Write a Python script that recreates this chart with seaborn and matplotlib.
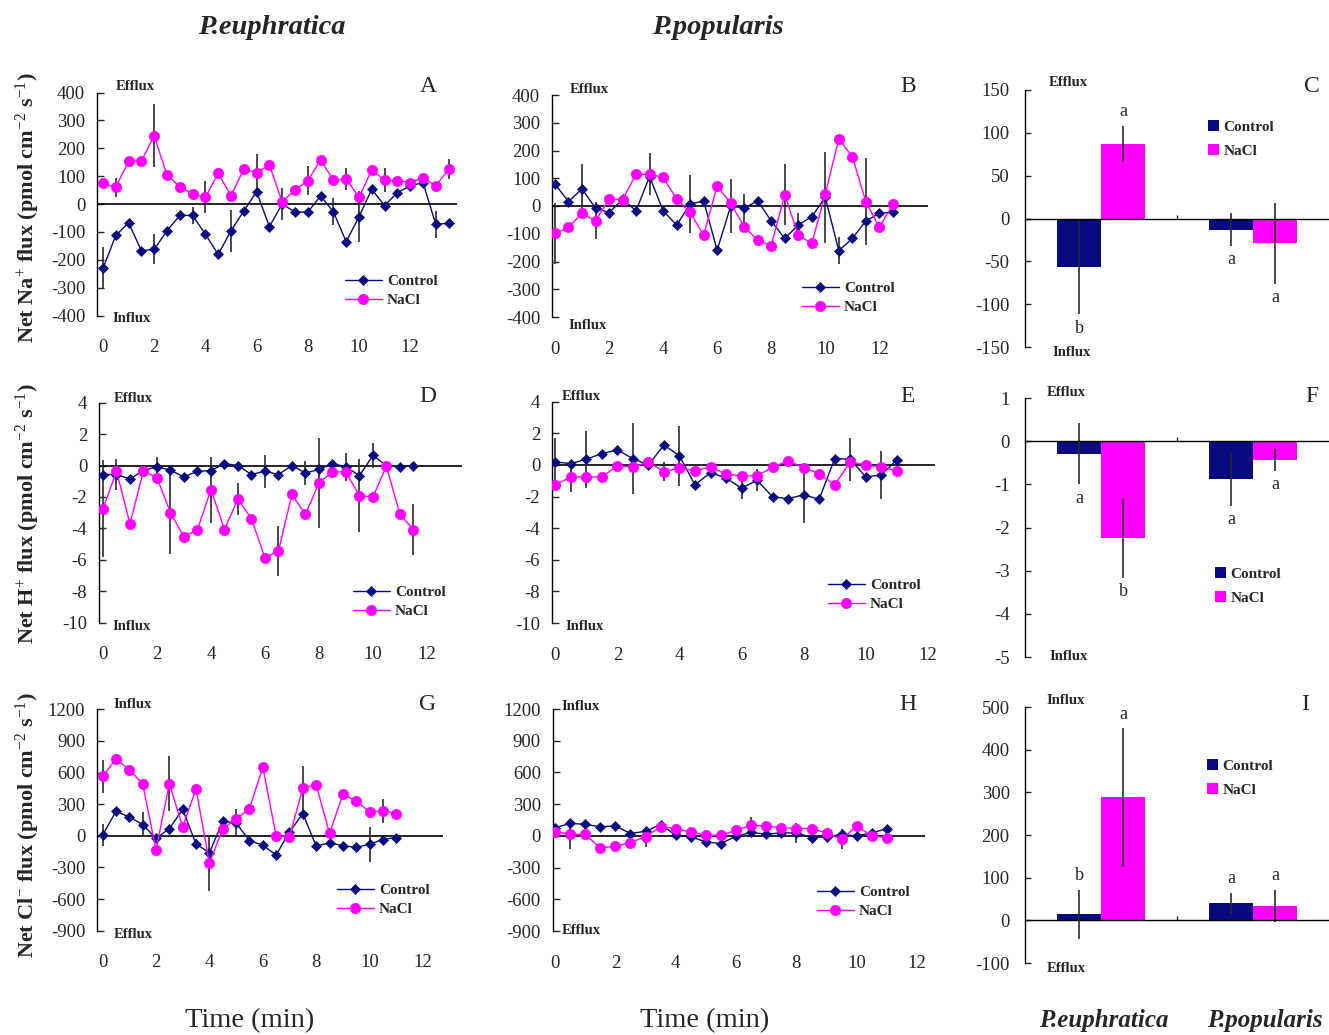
import numpy as np
import pandas as pd
import matplotlib
matplotlib.use("Agg")
import matplotlib.pyplot as plt
import matplotlib.transforms as mtransforms
import seaborn as sns

# ---------------- data ----------------
times = [0, 0.5, 1, 1.5, 2, 2.5, 3, 3.5, 4, 4.5, 5, 5.5, 6, 6.5,
         7, 7.5, 8, 8.5, 9, 9.5, 10, 10.5, 11, 11.5, 12, 12.5, 13, 13.5]

# Panel A: Na+ flux, P. euphratica
na_pe_ctrl = [-231, -113, -67, -168, -163, -96, -41, -41, -108, -181,
              -96, -25, 44, -81, 0, -29, -29, 29, -28, -135,
              -46, 53, -6, 41, 65, 77, -73, -69]
na_pe_ctrl_err = [75, 0, 0, 0, 54, 0, 0, 29, 0, 0,
                  75, 0, 0, 0, 57, 0, 0, 0, 48, 0,
                  91, 0, 0, 0, 0, 0, 48, 0]
na_pe_nacl = [74, 60, 154, 154, 244, 104, 62, 36, 24, 110,
              30, 125, 113, 140, 8, 50, 84, 158, 86, 90,
              24, 122, 86, 83, 77, 95, 65, 125]
na_pe_nacl_err = [0, 35, 0, 0, 113, 0, 0, 0, 58, 0,
                  0, 0, 67, 0, 0, 0, 53, 0, 0, 39,
                  0, 0, 43, 0, 0, 0, 0, 36]

# Panel B: Na+ flux, P. popularis
na_pp_ctrl = [79, 16, 62, -8, -24, 24, -17, 106, -17, -69,
              7, 18, -159, 0, -8, 19, -54, -117, -69, -38,
              31, -161, -117, -54, -26, -23]
na_pp_ctrl_err = [0, 0, 90, 0, 0, 0, 0, 0, 0, 0,
                  106, 0, 0, 98, 52, 0, 0, 0, 43, 0,
                  165, 48, 0, 0, 0, 0]
na_pp_nacl = [-99, -77, -26, -53, 25, 22, 115, 114, 103, 25,
              -23, -105, 72, 10, -75, -123, -143, 40, -105, -135,
              43, 242, 178, 16, -77, 6]
na_pp_nacl_err = [111, 0, 0, 66, 0, 0, 0, 76, 0, 0,
                  0, 0, 0, 0, 0, 0, 0, 110, 0, 0,
                  0, 0, 0, 156, 0, 0]

# Panel D: H+ flux, P. euphratica
h_pe_ctrl = [-0.57, -0.57, -0.85, -0.30, -0.08, -0.30, -0.72, -0.36, -0.32, 0.13,
             0.0, -0.57, -0.36, -0.57, 0.0, -0.47, -0.25, 0.13, -0.08, -0.64,
             0.64, 0.0, -0.08, 0.0]
h_pe_ctrl_err = [0, 1.0, 0, 0, 0.6, 0, 0, 0, 0, 0,
                 0, 0, 1.06, 0, 0, 0.77, 0, 0, 0.9, 0,
                 0.77, 0, 0, 0]
h_pe_nacl = [-2.75, -0.36, -3.71, -0.32, -0.78, -3.0, -4.55, -4.07, -1.53, -4.07,
             -2.12, -3.39, -5.87, -5.44, -1.84, -3.11, -1.10, -0.40, -0.42, -1.91,
             -1.99, -0.04, -3.11, -4.07]
h_pe_nacl_err = [3.1, 0, 0, 0, 0, 2.65, 0, 0, 2.1, 0,
                 1.0, 0, 0, 1.6, 0, 0, 2.86, 0, 0, 2.3,
                 0, 0, 0, 1.6]

# Panel E: H+ flux, P. popularis
h_pp_ctrl = [0.19, 0.08, 0.36, 0.72, 0.95, 0.40, 0.0, 1.26, 0.57, -1.26,
             -0.48, -0.84, -1.47, -0.97, -2.02, -2.13, -1.89, -2.17, 0.40, 0.36,
             -0.76, -0.63, 0.32]
h_pp_ctrl_err = [1.5, 0, 1.8, 0, 0, 2.27, 0, 0, 1.9, 0,
                 0, 0, 0.7, 0.7, 0, 0, 1.8, 0, 0, 1.36,
                 0, 1.52, 0]
h_pp_nacl = [-1.26, -0.76, -0.76, -0.76, -0.06, -0.13, 0.19, -0.42, -0.21, -0.38,
             -0.11, -0.59, -0.69, -0.69, -0.13, 0.25, -0.17, -0.55, -1.26, 0.19,
             0.0, -0.13, -0.38]
h_pp_nacl_err = [0, 0.93, 0, 0, 0, 0, 0, 0.6, 0, 0,
                 0, 0, 0, 0, 0, 0, 0, 0, 0, 0,
                 0, 0, 0]

# Panel G: Cl- flux, P. euphratica
cl_pe_ctrl = [6, 232, 179, 107, -25, 69, 251, -79, -160, 138,
              123, -47, -88, -182, 38, 210, -97, -66, -94, -110,
              -79, -35, -16]
cl_pe_ctrl_err = [107, 0, 0, 119, 0, 0, 0, 47, 0, 0,
                  129, 0, 0, 0, 0, 0, 0, 0, 0, 0,
                  167, 0, 0]
cl_pe_nacl = [563, 729, 626, 494, -135, 494, 85, 446, -261, 69,
              157, 258, 651, 0, -9, 453, 484, 22, 393, 330,
              226, 236, 211]
cl_pe_nacl_err = [157, 0, 0, 0, 0, 261, 0, 0, 261, 0,
                  0, 40, 0, 0, 0, 205, 0, 0, 0, 0,
                  0, 110, 0]

# Panel H: Cl- flux, P. popularis
cl_pp_ctrl = [76, 117, 110, 85, 95, 22, 44, 107, 6, -9,
              -57, -73, -3, 32, 16, 28, 28, -16, -9, 13,
              0, 28, 69]
cl_pp_ctrl_err = [0, 0, 0, 0, 0, 0, 0, 0, 0, 0,
                  0, 0, 0, 0, 0, 0, 95, 0, 0, 0,
                  0, 0, 0]
cl_pp_nacl = [38, 16, 13, -114, -98, -63, -9, 85, 69, 38,
              6, 6, 54, 101, 91, 79, 69, 69, 28, -32,
              95, -3, -16]
cl_pp_nacl_err = [0, 140, 0, 0, 0, 0, 95, 0, 0, 0,
                  0, 0, 0, 82, 0, 0, 0, 0, 0, 95,
                  0, 0, 0]

# Bar panels (means over time)
species = ["P.euphratica", "P.popularis"]
treatments = ["Control", "NaCl"]

na_bar_ctrl = [-57, -13]
na_bar_ctrl_err = [55, 19]
na_bar_nacl = [87, -29]
na_bar_nacl_err = [21, 47]
na_bar_ctrl_letters = ["b", "a"]
na_bar_nacl_letters = ["a", "a"]

h_bar_ctrl = [-0.29, -0.87]
h_bar_ctrl_err = [0.71, 0.63]
h_bar_nacl = [-2.25, -0.43]
h_bar_nacl_err = [0.91, 0.25]
h_bar_ctrl_letters = ["a", "a"]
h_bar_nacl_letters = ["b", "a"]

cl_bar_ctrl = [14, 40]
cl_bar_ctrl_err = [57, 24]
cl_bar_nacl = [288, 33]
cl_bar_nacl_err = [162, 38]
cl_bar_ctrl_letters = ["b", "a"]
cl_bar_nacl_letters = ["a", "a"]

# ---------------- style ----------------
sns.set_style("white")
plt.rcParams["font.family"] = ["Liberation Serif", "DejaVu Serif"]
plt.rcParams["mathtext.fontset"] = "custom"
plt.rcParams["mathtext.rm"] = "Liberation Serif"
plt.rcParams["mathtext.it"] = "Liberation Serif:italic"
plt.rcParams["mathtext.bf"] = "Liberation Serif:bold"
plt.rcParams["axes.linewidth"] = 1.0
plt.rcParams["axes.edgecolor"] = "black"
plt.rcParams["axes.unicode_minus"] = False

C_CTRL = "#0a0a80"
C_NACL = "#ff00ff"
C_ERR = "#2a2a2a"

W, H = 1329, 1035
fig = plt.figure(figsize=(W / 100, H / 100), dpi=100)
fig.patch.set_facecolor("white")


def add_ax(left, top, right, bottom):
    return fig.add_axes([left / W, 1 - bottom / H, (right - left) / W, (bottom - top) / H])


def ftext(x, y, s, **kw):
    kw.setdefault("ha", "center")
    kw.setdefault("va", "center")
    fig.text(x / W, 1 - y / H, s, **kw)


TICK_FS = 13.5
WORD_FS = 10.5
LEG_FS = 11


def line_panel(box, t, ctrl, ctrl_err, nacl, nacl_err, xlim, ylim, yticks,
               letter, letter_xy, words, leg_xy):
    ax = add_ax(*box)
    n = len(ctrl)
    tt = t[:n]
    df = pd.DataFrame({
        "time": tt + tt,
        "flux": ctrl + nacl,
        "treatment": ["Control"] * n + ["NaCl"] * n,
    })
    ax.axhline(0, color="black", lw=1.2, zorder=1)
    ax.errorbar(tt, ctrl, yerr=ctrl_err, fmt="none", ecolor=C_ERR, elinewidth=1.2, capsize=0, zorder=2)
    ax.errorbar(tt, nacl, yerr=nacl_err, fmt="none", ecolor=C_ERR, elinewidth=1.2, capsize=0, zorder=2)
    sns.lineplot(data=df[df.treatment == "Control"], x="time", y="flux", ax=ax,
                 color=C_CTRL, marker="D", markersize=5.4, lw=1.0,
                 markeredgecolor=C_CTRL, markeredgewidth=0.5, label="Control",
                 errorbar=None, zorder=3)
    sns.lineplot(data=df[df.treatment == "NaCl"], x="time", y="flux", ax=ax,
                 color=C_NACL, marker="o", markersize=7.4, lw=1.0,
                 markeredgecolor=C_NACL, markeredgewidth=0.5, label="NaCl",
                 errorbar=None, zorder=3)
    ax.set_xlim(*xlim)
    ax.set_ylim(*ylim)
    ax.set_yticks(yticks)
    ax.set_xticks([0, 2, 4, 6, 8, 10, 12])
    ax.set_xlabel("")
    ax.set_ylabel("")
    for s in ["top", "right", "bottom"]:
        ax.spines[s].set_visible(False)
    ax.tick_params(axis="y", direction="in", length=5, width=1.0, pad=8.5,
                   labelsize=TICK_FS, left=True)
    ax.tick_params(axis="x", length=0, pad=17, labelsize=TICK_FS)
    ax.set_facecolor("none")
    ftext(letter_xy[0], letter_xy[1], letter, fontsize=17)
    for (wx, wy, w) in words:
        ftext(wx, wy, w, fontsize=WORD_FS, fontweight="bold")
    h, l = ax.get_legend_handles_labels()
    ax.legend(h, l, loc="center left", bbox_to_anchor=(leg_xy[0] / W, 1 - leg_xy[1] / H),
              bbox_transform=fig.transFigure, frameon=False, borderpad=0, borderaxespad=0,
              handlelength=2.4, handletextpad=0.35, labelspacing=0.35,
              prop={"family": "Liberation Serif", "weight": "bold", "size": LEG_FS})
    return ax


def bar_panel(box, ctrl, ctrl_err, nacl, nacl_err, ctrl_letters, nacl_letters,
              ctrl_side, nacl_side, ylim, yticks, letter, letter_xy, words, leg_xy):
    ax = add_ax(*box)
    df = pd.DataFrame({
        "species": species + species,
        "flux": ctrl + nacl,
        "treatment": ["Control"] * 2 + ["NaCl"] * 2,
    })
    sns.barplot(data=df, x="species", y="flux", hue="treatment", hue_order=treatments,
                palette={"Control": C_CTRL, "NaCl": C_NACL}, saturation=1, width=0.58,
                errorbar=None, linewidth=0, ax=ax, zorder=2)
    bar_conts = list(ax.containers)[:2]
    errs = [ctrl_err, nacl_err]
    letters = [ctrl_letters, nacl_letters]
    sides = [ctrl_side, nacl_side]
    for ci, cont in enumerate(bar_conts):
        xs = [b.get_x() + b.get_width() / 2 for b in cont]
        ys = [b.get_height() for b in cont]
        ax.errorbar(xs, ys, yerr=errs[ci], fmt="none", ecolor=C_ERR, elinewidth=1.2,
                    capsize=0, zorder=3)
        for x, y, e, lt, sd in zip(xs, ys, errs[ci], letters[ci], sides[ci]):
            if sd == "above":
                ax.annotate(lt, (x, y + e), xytext=(0, 4), textcoords="offset points",
                            ha="center", va="bottom", fontsize=13)
            else:
                ax.annotate(lt, (x, y - e), xytext=(0, -4), textcoords="offset points",
                            ha="center", va="top", fontsize=13)
    ax.set_xlim(-0.5, 1.5)
    ax.set_ylim(*ylim)
    ax.set_yticks(yticks)
    ax.set_xticks([0.5])
    ax.set_xticklabels([""])
    ax.set_xlabel("")
    ax.set_ylabel("")
    ax.spines["top"].set_visible(False)
    ax.spines["right"].set_visible(False)
    ax.spines["bottom"].set_position(("data", 0))
    ax.spines["bottom"].set_zorder(4)
    ax.tick_params(axis="y", direction="in", length=4, width=1.0, pad=11,
                   labelsize=TICK_FS, left=True)
    ax.tick_params(axis="x", direction="in", length=3, width=1.0, bottom=True)
    ax.set_facecolor("none")
    ftext(letter_xy[0], letter_xy[1], letter, fontsize=17)
    for (wx, wy, w) in words:
        ftext(wx, wy, w, fontsize=WORD_FS, fontweight="bold")
    h, l = ax.get_legend_handles_labels()
    ax.legend(h, l, loc="center left", bbox_to_anchor=(leg_xy[0] / W, 1 - leg_xy[1] / H),
              bbox_transform=fig.transFigure, frameon=False, borderpad=0, borderaxespad=0,
              handlelength=0.72, handleheight=0.72, handletextpad=0.3, labelspacing=0.7,
              prop={"family": "Liberation Serif", "weight": "bold", "size": LEG_FS})
    return ax


# Row 1: Na+
line_panel((97, 92.5, 457, 315.5), times, na_pe_ctrl, na_pe_ctrl_err, na_pe_nacl, na_pe_nacl_err,
           (-0.234, 13.83), (-400, 400), list(range(-400, 401, 100)),
           "A", (428, 87), [(135, 87, "Efflux"), (132, 318, "Influx")], (345, 291))
line_panel((552, 95, 928, 317), times, na_pp_ctrl, na_pp_ctrl_err, na_pp_nacl, na_pp_nacl_err,
           (-0.11, 13.8), (-400, 400), list(range(-400, 401, 100)),
           "B", (908, 87), [(589, 90, "Efflux"), (588, 325, "Influx")], (802, 298))
bar_panel((1025, 90, 1329, 347), na_bar_ctrl, na_bar_ctrl_err, na_bar_nacl, na_bar_nacl_err,
          na_bar_ctrl_letters, na_bar_nacl_letters, ["below", "below"], ["above", "below"],
          (-150, 150), list(range(-150, 151, 50)),
          "C", (1312, 87), [(1068, 83, "Efflux"), (1072, 352, "Influx")], (1208, 139))

# Row 2: H+
line_panel((99, 402.7, 462, 622.7), times, h_pe_ctrl, h_pe_ctrl_err, h_pe_nacl, h_pe_nacl_err,
           (-0.148, 13.3), (-10, 4), list(range(-10, 5, 2)),
           "D", (428, 396), [(133, 398, "Efflux"), (132, 626, "Influx")], (353, 602))
line_panel((552, 401.7, 935, 623), times, h_pp_ctrl, h_pp_ctrl_err, h_pp_nacl, h_pp_nacl_err,
           (-0.106, 12.23), (-10, 4), list(range(-10, 5, 2)),
           "E", (908, 396), [(581, 397, "Efflux"), (585, 626, "Influx")], (828, 595))
bar_panel((1025, 398, 1329, 657), h_bar_ctrl, h_bar_ctrl_err, h_bar_nacl, h_bar_nacl_err,
          h_bar_ctrl_letters, h_bar_nacl_letters, ["below", "below"], ["below", "below"],
          (-5, 1), list(range(-5, 2, 1)),
          "F", (1312, 396), [(1066, 392, "Efflux"), (1069, 657, "Influx")], (1215, 586))

# Row 3: Cl-
line_panel((97, 709.3, 443, 930.7), times, cl_pe_ctrl, cl_pe_ctrl_err, cl_pe_nacl, cl_pe_nacl_err,
           (-0.21, 12.75), (-900, 1200), list(range(-900, 1201, 300)),
           "G", (428, 704), [(133, 705, "Influx"), (133, 934, "Efflux")], (337, 900))
line_panel((552.7, 709, 925, 931), times, cl_pp_ctrl, cl_pp_ctrl_err, cl_pp_nacl, cl_pp_nacl_err,
           (-0.076, 12.26), (-900, 1200), list(range(-900, 1201, 300)),
           "H", (908, 704), [(581, 707, "Influx"), (581, 931, "Efflux")], (817, 902))
ax_i = bar_panel((1025, 707, 1329, 963), cl_bar_ctrl, cl_bar_ctrl_err, cl_bar_nacl, cl_bar_nacl_err,
                 cl_bar_ctrl_letters, cl_bar_nacl_letters, ["above", "above"], ["above", "above"],
                 (-100, 500), list(range(-100, 501, 100)),
                 "I", (1305, 704), [(1066, 700, "Influx"), (1066, 968, "Efflux")], (1207, 778))

# category labels under panel I
trans_i = mtransforms.blended_transform_factory(ax_i.transData, fig.transFigure)
for xi, sp in zip([0.02, 1.08], species):
    ax_i.text(xi, 1 - 1021 / H, sp, transform=trans_i, ha="center", va="center",
              fontsize=18, fontweight="bold", fontstyle="italic")

# column titles and shared labels
ftext(272, 27, "P.euphratica", fontsize=20.5, fontweight="bold", fontstyle="italic")
ftext(718, 27, "P.popularis", fontsize=20.5, fontweight="bold", fontstyle="italic")
ftext(250, 1021, "Time (min)", fontsize=20.5)
ftext(705, 1021, "Time (min)", fontsize=20.5)

ftext(28, 208, r"Net Na$^{+}$ flux (pmol cm$^{-2}$ s$^{-1}$)", fontsize=16,
      fontweight="bold", rotation=90)
ftext(28, 514, r"Net H$^{+}$ flux (pmol cm$^{-2}$ s$^{-1}$)", fontsize=16,
      fontweight="bold", rotation=90)
ftext(28, 825, r"Net Cl$^{-}$ flux (pmol cm$^{-2}$ s$^{-1}$)", fontsize=16,
      fontweight="bold", rotation=90)

fig.savefig("out.png", dpi=100, facecolor="white")
